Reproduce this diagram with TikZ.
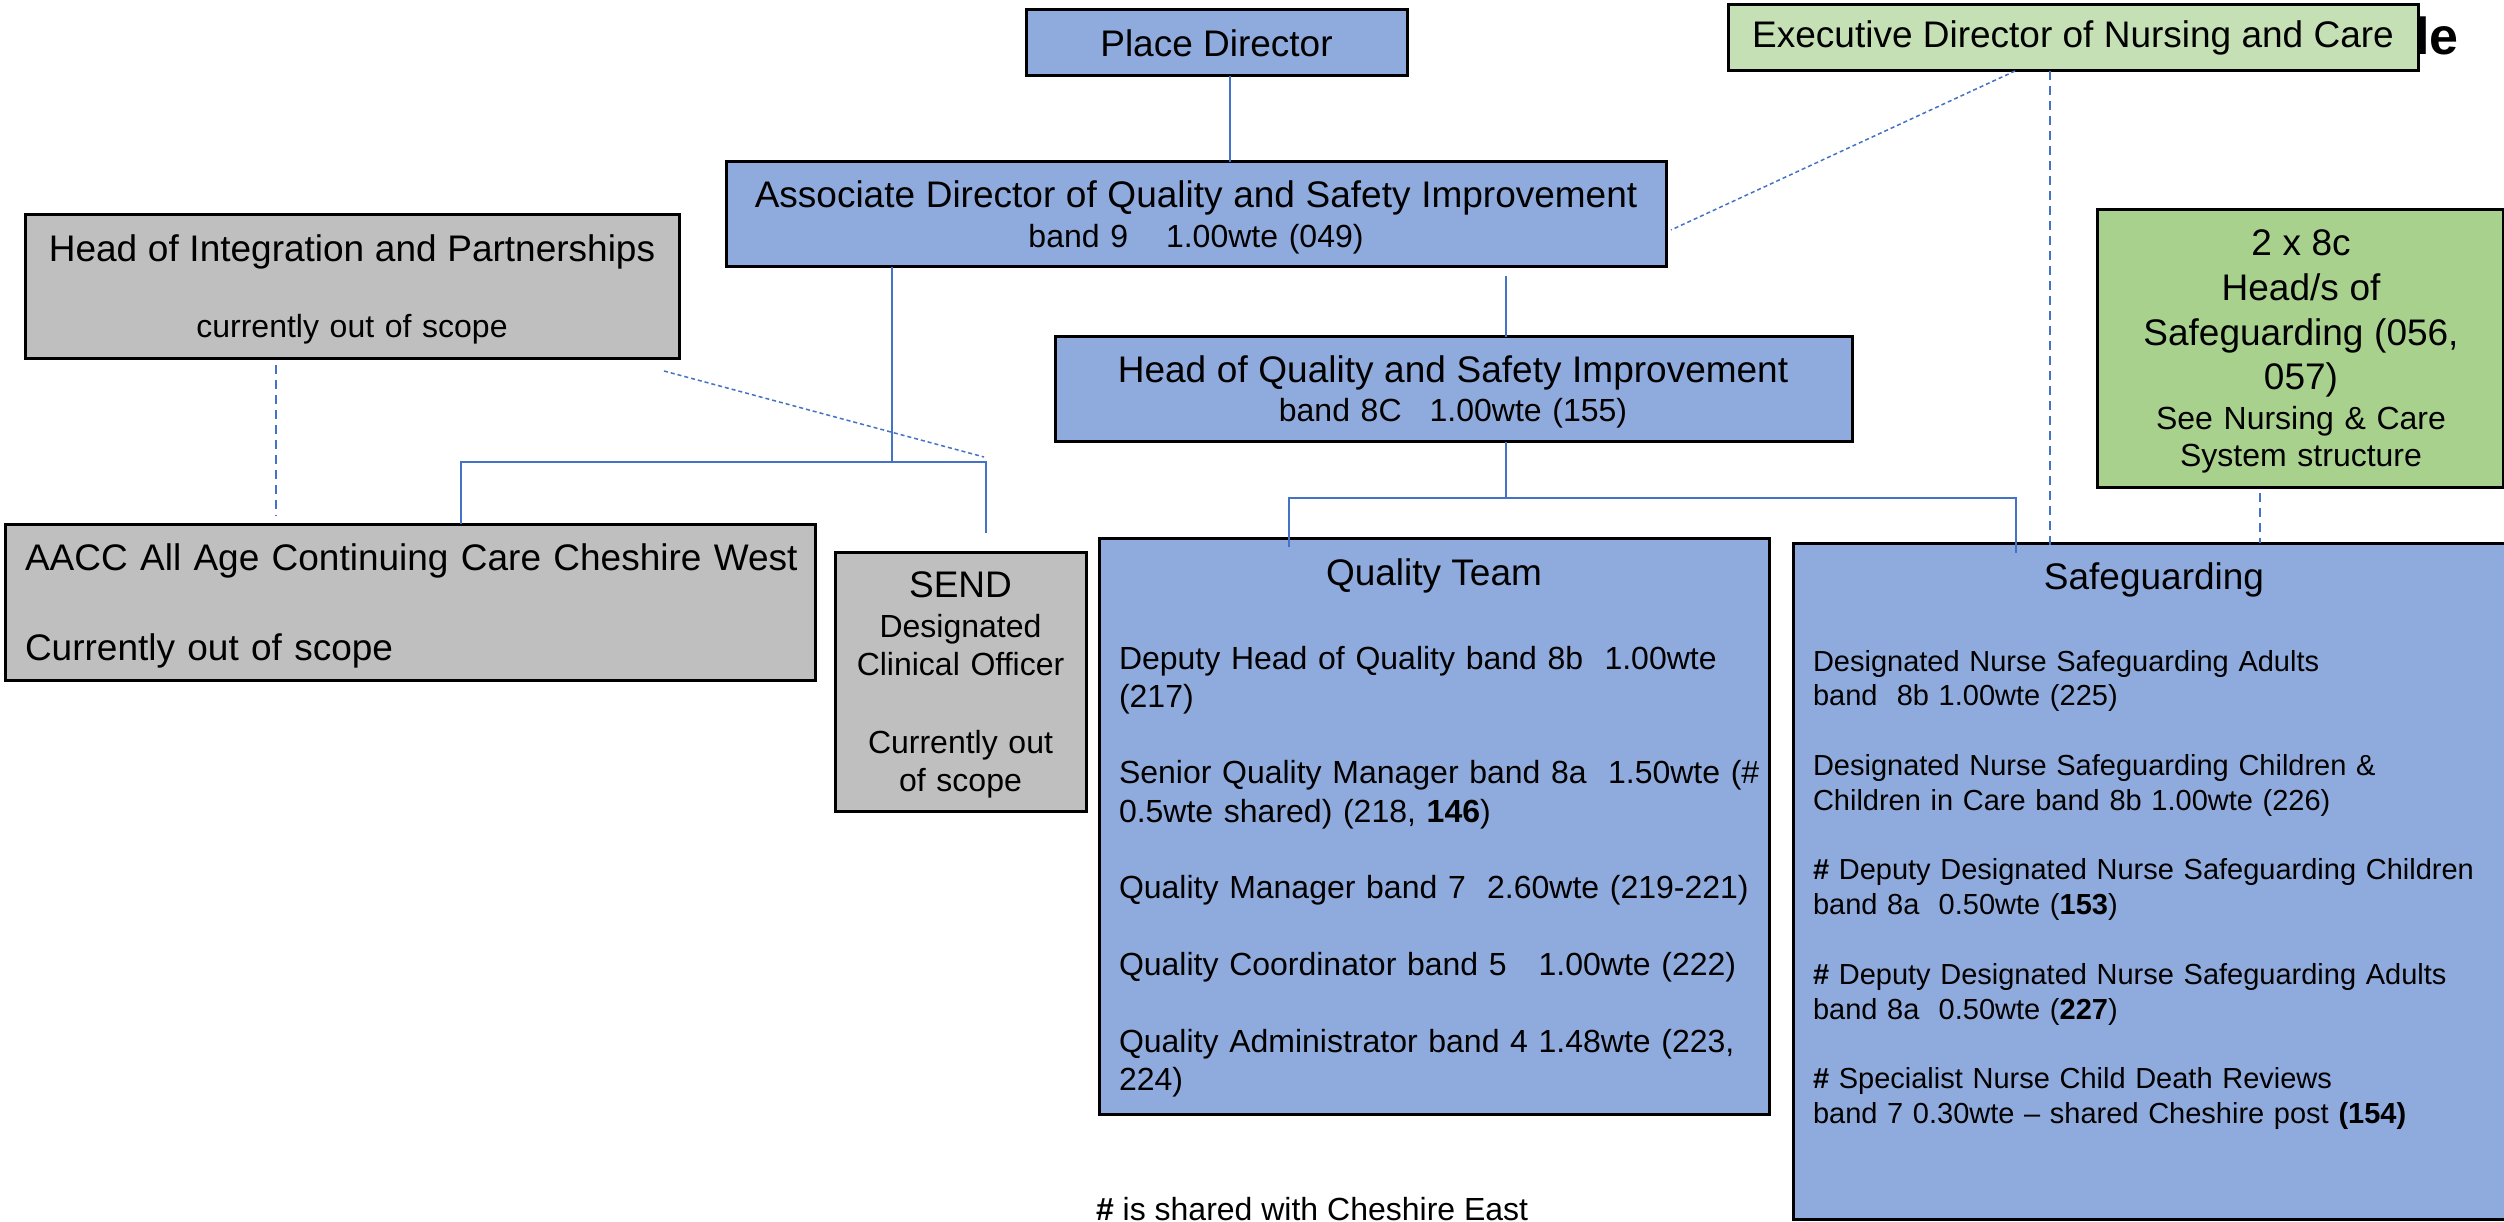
\documentclass[tikz,border=0pt]{standalone}
\usepackage{fontspec}
\setmainfont{Liberation Sans}
\usetikzlibrary{calc}
\definecolor{boxblue}{HTML}{8FAADC}
\definecolor{boxgrey}{HTML}{BFBFBF}
\definecolor{execgreen}{HTML}{C5E0B4}
\definecolor{hosgreen}{HTML}{A9D18E}
\definecolor{linkblue}{HTML}{4472C4}
\newcommand{\szBig}{\fontsize{37}{43}\selectfont}
\newcommand{\szMid}{\fontsize{32}{38}\selectfont}
\begin{document}
\begin{tikzpicture}[x=1pt,y=-1pt,
 box/.style={draw=black,line width=3pt,inner sep=0pt,outer sep=0pt},
 bluebox/.style={box,fill=boxblue},
 greybox/.style={box,fill=boxgrey},
 conn/.style={draw=linkblue,line width=1.5pt},
 dconn/.style={conn,dash pattern=on 9pt off 6pt},
 dotconn/.style={conn,dash pattern=on 4pt off 3pt},
 txt/.style={inner sep=0pt,outer sep=0pt},
]
\useasboundingbox (0,0) rectangle (2504,1222);
\fill[white] (0,0) rectangle (2504,1222);
\clip (0,0) rectangle (2504,1222);

\coordinate (xa) at (1230,0);
\coordinate (xb) at (892,0);
\coordinate (xc) at (461,0);
\coordinate (xd) at (986,0);
\coordinate (xe) at (1506,0);
\coordinate (xf) at (1289,0);
\coordinate (xg) at (2016,0);
\coordinate (xh) at (2015,0);
\coordinate (xi) at (2050,0);
\coordinate (xj) at (2260,0);
\coordinate (xk) at (276,0);
\coordinate (jy) at (0,462);
\coordinate (jy2) at (0,498);
\coordinate (exend) at (1671,230);
\coordinate (hoiend) at (984,457);

\node[txt,anchor=base west,font=\fontsize{52}{60}\selectfont\bfseries] (titlefrag) at (2415,55) {le};

\node[bluebox,minimum width=381pt,minimum height=66pt,font=\szBig] (place) at (1216.5,43) {Place Director};
\node[box,fill=execgreen,minimum width=690pt,minimum height=66pt,font=\szBig] (exec) at (2073,38) {Executive Director of Nursing and Care};

\node[bluebox,minimum width=940pt,minimum height=105pt] (assoc) at (1196,214.5) {};
\node[txt,anchor=base,text width=930pt,align=center,font=\fontsize{32}{40}\selectfont] (assoctxt) at (1196,208) {{\szBig Associate Director of Quality and Safety Improvement}\\band 9\hspace{38pt}1.00wte (049)};

\node[greybox,minimum width=654pt,minimum height=144pt] (hoi) at (352,287) {};
\node[txt,anchor=base,text width=640pt,align=center,font=\szMid] (hoitxt) at (352,262) {{\szBig Head of Integration and Partnerships}\\[38pt]currently out of scope};

\node[bluebox,minimum width=797pt,minimum height=105pt] (hqs) at (1453.5,389.5) {};
\node[txt,anchor=base,text width=780pt,align=center,font=\fontsize{32}{39}\selectfont] (hqstxt) at (1453,383) {{\szBig Head of Quality and Safety Improvement}\\band 8C\hspace{28pt}1.00wte (155)};

\node[box,fill=hosgreen,minimum width=406pt,minimum height=277pt] (hos) at (2300,348.5) {};
\node[txt,anchor=base,text width=400pt,align=center,font=\fontsize{32}{37}\selectfont] (hostxt) at (2301,256) {{\szBig 2 x 8c}\\[8pt]{\szBig Head/s of}\\[8pt]{\szBig Safeguarding (056,}\\[7pt]{\szBig 057)}\\[3pt]See Nursing \& Care\\System structure};

\node[greybox,minimum width=810pt,minimum height=156pt] (aacc) at (410,602) {};
\node[txt,anchor=base west,text width=785pt,align=left,font=\szBig] (aacctxt) at (25,570) {AACC All Age Continuing Care Cheshire West\\[47pt]Currently out of scope};

\node[greybox,minimum width=251pt,minimum height=259pt] (send) at (960.5,681.5) {};
\node[txt,anchor=base,text width=245pt,align=center,font=\szMid] (sendtxt) at (960.5,597) {{\szBig SEND}\\[2pt]Designated\\Clinical Officer\\[40pt]Currently out\\of scope};

\node[bluebox,minimum width=670pt,minimum height=576pt] (qteam) at (1434,826) {};
\node[txt,anchor=base,font=\szBig] (qtitle) at (1434,585) {Quality Team};
\node[txt,anchor=base west,text width=645pt,align=left,font=\fontsize{32}{38.3}\selectfont] (qitems) at (1119,669) {Deputy Head of Quality band 8b~~1.00wte\\(217)\\[38.3pt]Senior Quality Manager band 8a~~1.50wte (\#\\0.5wte shared) (218, \textbf{146})\\[38.3pt]Quality Manager band 7~~2.60wte (219-221)\\[38.3pt]Quality Coordinator band 5~~~1.00wte (222)\\[38.3pt]Quality Administrator band 4 1.48wte (223,\\224)};

\node[bluebox,minimum width=722pt,minimum height=676pt] (safe) at (2154,881) {};
\node[txt,anchor=base,font=\szBig] (stitle) at (2154,589) {Safeguarding};
\node[txt,anchor=base west,text width=690pt,align=left,font=\fontsize{29}{34.8}\selectfont] (sitems) at (1813,671) {Designated Nurse Safeguarding Adults\\band~~8b 1.00wte (225)\\[34.8pt]Designated Nurse Safeguarding Children \&\\Children in Care band 8b 1.00wte (226)\\[34.8pt]\textbf{\#} Deputy Designated Nurse Safeguarding Children\\band 8a~~0.50wte (\textbf{153})\\[34.8pt]\textbf{\#} Deputy Designated Nurse Safeguarding Adults\\band 8a~~0.50wte (\textbf{227})\\[34.8pt]\textbf{\#} Specialist Nurse Child Death Reviews\\band 7 0.30wte – shared Cheshire post \textbf{(154)}};

\node[txt,anchor=base west,font=\szMid] (note) at (1096,1220) {\textbf{\#} is shared with Cheshire East};

\draw[conn] (place.south -| xa) -- (assoc.north -| xa);
\draw[conn] (assoc.south -| xb) -- (jy -| xb);
\draw[conn] (aacc.north -| xc) |- (jy -| xd) -- ($(send.north -| xd)+(0,-19)$);
\draw[conn] ($(assoc.south -| xe)+(0,9)$) -- (hqs.north -| xe);
\draw[conn] (hqs.south -| xe) -- (jy2 -| xe);
\draw[conn] ($(qteam.north -| xf)+(0,9)$) |- (jy2 -| xg) -- ($(safe.north -| xg)+(0,10)$);
\draw[dotconn] (exec.south -| xh) -- (exend);
\draw[dconn] (exec.south -| xi) -- ($(safe.north -| xi)+(0,3)$);
\draw[dconn] ($(hos.south -| xj)+(0,6)$) -- (safe.north -| xj);
\draw[dconn] ($(hoi.south -| xk)+(0,6)$) -- ($(aacc.north -| xk)+(0,-8)$);
\draw[dotconn] ($(hoi.south east)+(-15,12)$) -- (hoiend);
\end{tikzpicture}
\end{document}
